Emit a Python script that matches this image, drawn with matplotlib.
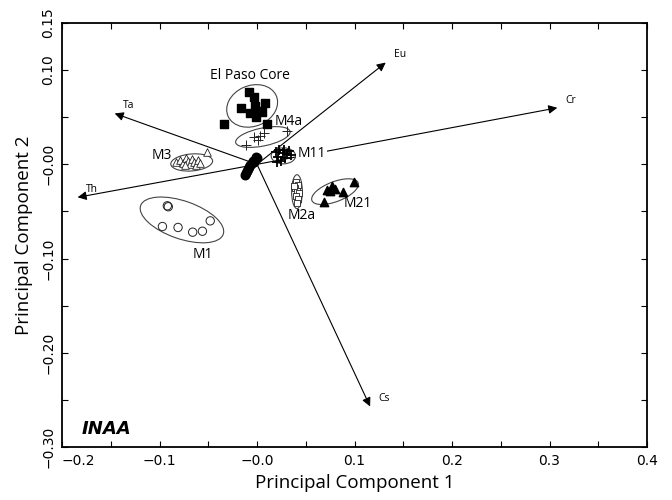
import numpy as np
import matplotlib
matplotlib.use("Agg")
import matplotlib.pyplot as plt
from matplotlib.patches import Ellipse

# loading vectors (arrow tips from origin)
vec_names = ["Eu", "Cr", "Ta", "Th", "Cs"]
vec_x = [0.132, 0.308, -0.146, -0.184, 0.116]
vec_y = [0.108, 0.060, 0.054, -0.035, -0.257]

# sample scores per group
elpaso_x = [-0.008, -0.003, 0.008, -0.016, -0.002, 0.001, -0.007, -0.001, 0.005, -0.034, 0.010]
elpaso_y = [0.077, 0.071, 0.065, 0.060, 0.062, 0.057, 0.055, 0.050, 0.056, 0.043, 0.043]

m4a_x = [-0.003, 0.003, 0.007, 0.001, -0.011, 0.031]
m4a_y = [0.029, 0.030, 0.033, 0.026, 0.020, 0.035]

m11_x = [0.019, 0.023, 0.027, 0.031, 0.035, 0.022, 0.029, 0.025, 0.020, 0.033, 0.028]
m11_y = [0.013, 0.015, 0.012, 0.011, 0.010, 0.008, 0.007, 0.004, 0.002, 0.014, 0.015]

m8_x = [0.0, -0.002, -0.003, -0.005, -0.007, -0.008, -0.009, -0.010, -0.011, -0.012, -0.004, -0.001]
m8_y = [0.007, 0.005, 0.002, 0.001, -0.001, -0.003, -0.005, -0.007, -0.009, -0.011, 0.004, 0.008]

m3_x = [-0.083, -0.079, -0.076, -0.073, -0.071, -0.069, -0.067, -0.065, -0.063, -0.061, -0.058, -0.074, -0.051]
m3_y = [0.002, 0.005, 0.001, 0.007, 0.004, 0.000, 0.006, 0.002, -0.001, 0.005, 0.001, -0.001, 0.013]

m1_x = [-0.092, -0.091, -0.097, -0.081, -0.066, -0.056, -0.048]
m1_y = [-0.044, -0.045, -0.066, -0.067, -0.072, -0.071, -0.060]

m2a_x = [0.040, 0.042, 0.039, 0.041, 0.043, 0.040, 0.042, 0.041, 0.038]
m2a_y = [-0.019, -0.022, -0.025, -0.028, -0.030, -0.034, -0.037, -0.041, -0.023]

m21_x = [0.072, 0.077, 0.080, 0.088, 0.099, 0.069, 0.075]
m21_y = [-0.027, -0.023, -0.026, -0.029, -0.019, -0.040, -0.028]

# group ellipses: center x, center y, width, height, angle
ell_names = ["El Paso Core", "M4a", "M11", "M3", "M1", "M2a", "M21"]
ell_cx = [-0.005, 0.006, 0.027, -0.067, -0.077, 0.041, 0.080]
ell_cy = [0.062, 0.029, 0.009, 0.002, -0.059, -0.029, -0.029]
ell_w = [0.054, 0.057, 0.025, 0.043, 0.090, 0.011, 0.051]
ell_h = [0.043, 0.019, 0.017, 0.018, 0.040, 0.036, 0.021]
ell_ang = [25, 12, 0, 5, -20, 0, 22]

# group labels
lab_x = [-0.007, 0.032, 0.056, -0.098, -0.056, 0.046, 0.103]
lab_y = [0.094, 0.045, 0.011, 0.009, -0.096, -0.054, -0.042]

lab_font = "Open Sans"

fig = plt.figure(figsize=(6.72, 5.0), dpi=100)
ax = fig.add_axes([0.0923, 0.106, 0.8705, 0.848])

# arrows
for name, vx, vy in zip(vec_names, vec_x, vec_y):
    ax.annotate("", xy=(vx, vy), xytext=(0, 0),
                arrowprops=dict(arrowstyle="-|>", lw=0.8, color="black",
                                mutation_scale=13, shrinkA=0, shrinkB=0),
                zorder=2)
    ax.annotate(name, xy=(vx, vy), xytext=(6, 1.5), textcoords="offset points",
                fontsize=7.5, family=lab_font, va="bottom", ha="left")

# ellipses
for cx, cy, w, h, a in zip(ell_cx, ell_cy, ell_w, ell_h, ell_ang):
    ax.add_patch(Ellipse((cx, cy), w, h, angle=a, fill=False,
                         edgecolor="#444444", lw=0.8, zorder=3))

# points
ax.scatter(elpaso_x, elpaso_y, marker="s", s=30, color="black", zorder=4)
ax.scatter(m4a_x, m4a_y, marker="+", s=45, color="#222222", linewidths=0.7, zorder=4)
ax.scatter(m11_x, m11_y, marker="+", s=45, color="black", linewidths=1.3, zorder=4)
ax.scatter(m8_x, m8_y, marker="o", s=38, color="black", zorder=4)
ax.scatter(m3_x, m3_y, marker="^", s=30, facecolors="white", edgecolors="#222222",
           linewidths=0.6, zorder=4)
ax.scatter(m1_x, m1_y, marker="o", s=36, facecolors="none", edgecolors="#222222",
           linewidths=0.7, zorder=4)
ax.scatter(m2a_x, m2a_y, marker="s", s=22, facecolors="white", edgecolors="#222222",
           linewidths=0.6, zorder=4)
ax.scatter(m21_x, m21_y, marker="^", s=36, color="black", zorder=4)

for name, lx, ly in zip(ell_names, lab_x, lab_y):
    bbox = None
    if name == "M11":
        bbox = dict(facecolor="white", edgecolor="none", pad=1)
    ax.text(lx, ly, name, fontsize=10, family=lab_font, ha="center", va="center",
            bbox=bbox, zorder=5)

ax.text(-0.18, -0.281, "INAA", fontsize=13, fontweight="bold", fontstyle="italic",
        family="DejaVu Sans", ha="left", va="center")

ax.set_xlim(-0.2, 0.4)
ax.set_ylim(-0.30, 0.15)

xt = np.round(np.arange(-0.2, 0.401, 0.05), 2)
ax.set_xticks(xt)
ax.set_xticklabels([("\u22120.0" if abs(v) < 1e-9 else f"{v:.1f}".replace("-", "\u2212"))
                    if abs(round(v * 10) - v * 10) < 1e-6 else "" for v in xt])
# first x label sits right of its tick, clear of the y labels
ax.get_xticklabels()[0].set_horizontalalignment("left")

yt = np.round(np.arange(-0.30, 0.151, 0.05), 2)
ylab_show = [-0.30, -0.20, -0.10, 0.0, 0.10, 0.15]
ax.set_yticks(yt)
ax.set_yticklabels([("\u22120.00" if abs(v) < 1e-9 else f"{v:.2f}".replace("-", "\u2212"))
                    if any(abs(v - s) < 1e-9 for s in ylab_show) else "" for v in yt],
                   rotation=90, va="center")

ax.tick_params(direction="in", length=4, width=0.8, top=True, right=True,
               labelsize=10, pad=5)
for sp in ax.spines.values():
    sp.set_linewidth(1.3)

ax.set_xlabel("Principal Component 1", fontsize=13.5, family=lab_font, labelpad=4)
ax.set_ylabel("Principal Component 2", fontsize=13.5, family=lab_font, labelpad=6)

fig.savefig("out.png", dpi=100)
